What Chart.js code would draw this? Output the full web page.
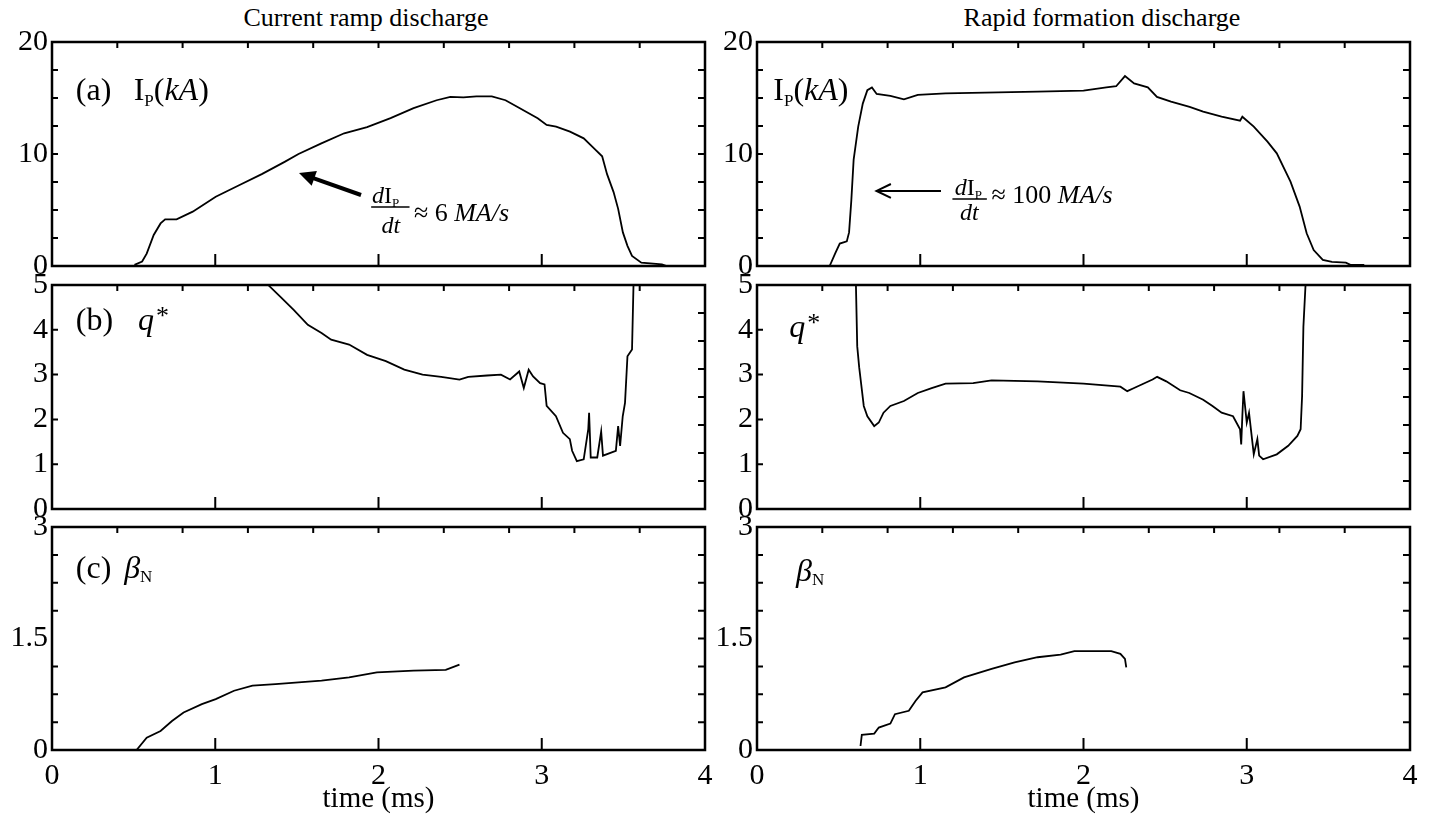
<!DOCTYPE html>
<html>
<head>
<meta charset="utf-8">
<script src="https://cdn.jsdelivr.net/npm/chart.js@4.4.1/dist/chart.umd.min.js"></script>
<style>
  body { margin: 0; background: #fff; overflow: hidden; }
  canvas { position: absolute; }
  .col-title { position: absolute; font: 26px/26px "Liberation Serif", "Times New Roman", serif; color: #000; white-space: nowrap; transform: translateX(-50%); }
</style>
</head>
<body>
<div class="col-title" style="left:366px; top:5px">Current ramp discharge</div>
<div class="col-title" style="left:1102px; top:5px">Rapid formation discharge</div>

<canvas id="ipRamp" width="730" height="268" style="left:0; top:20px"></canvas>
<canvas id="ipRapid" width="730" height="268" style="left:705px; top:20px"></canvas>
<canvas id="qRamp" width="730" height="268" style="left:0; top:263px"></canvas>
<canvas id="qRapid" width="730" height="268" style="left:705px; top:263px"></canvas>
<canvas id="betaRamp" width="730" height="309" style="left:0; top:505px"></canvas>
<canvas id="betaRapid" width="730" height="309" style="left:705px; top:505px"></canvas>

<script>
// time axis (ms) and tick labels
const timeTicks = [0, 1, 2, 3, 4];
const ipTicks = [0, 10, 20];
const qTicks = [0, 1, 2, 3, 4, 5];
const betaTicks = [0, 1.5, 3];

// (a) plasma current, kA
const rampTime = [0.00, 0.33, 0.40, 0.505, 0.552, 0.58, 0.623, 0.665, 0.693, 0.763, 0.862, 1.003, 1.149, 1.285, 1.425, 1.51, 1.65, 1.79, 1.93, 2.074, 2.215, 2.356, 2.44, 2.52, 2.60, 2.694, 2.778, 2.863, 2.975, 3.03, 3.088, 3.173, 3.257, 3.314, 3.37, 3.40, 3.44, 3.468, 3.497, 3.525, 3.553, 3.61, 3.736, 3.765, 3.85];
const rampIp = [0, 0, null, 0.1, 0.4, 1.1, 2.77, 3.8, 4.17, 4.17, 4.85, 6.19, 7.23, 8.2, 9.3, 10.0, 10.95, 11.85, 12.4, 13.2, 14.1, 14.8, 15.1, 15.05, 15.15, 15.15, 14.8, 14.1, 13.2, 12.6, 12.45, 12.0, 11.4, 10.6, 9.8, 8.2, 6.6, 5.1, 3.0, 1.8, 0.9, 0.3, 0.15, 0, 0];

const rapidTime = [0.445, 0.479, 0.507, 0.55, 0.564, 0.578, 0.592, 0.62, 0.648, 0.676, 0.704, 0.733, 0.817, 0.9, 0.985, 1.155, 1.718, 2.0, 2.14, 2.2, 2.254, 2.31, 2.394, 2.45, 2.536, 2.65, 2.733, 2.846, 2.959, 2.973, 3.043, 3.127, 3.184, 3.268, 3.324, 3.367, 3.41, 3.466, 3.522, 3.607, 3.635, 3.72];
const rapidIp = [0, 1.13, 2.0, 2.2, 3.0, 5.9, 9.5, 12.44, 14.5, 15.7, 15.95, 15.36, 15.2, 14.88, 15.27, 15.42, 15.57, 15.65, 15.95, 16.05, 16.96, 16.3, 15.95, 15.1, 14.67, 14.2, 13.78, 13.33, 12.97, 13.33, 12.44, 11.1, 10.06, 7.53, 5.3, 2.92, 1.43, 0.54, 0.36, 0.3, 0.1, 0.1];

// (b) q*
const rampQTime = [1.327, 1.398, 1.482, 1.567, 1.651, 1.71, 1.82, 1.93, 2.045, 2.158, 2.27, 2.384, 2.496, 2.55, 2.665, 2.75, 2.806, 2.862, 2.89, 2.92, 2.947, 2.99, 3.017, 3.03, 3.087, 3.13, 3.172, 3.186, 3.215, 3.257, 3.285, 3.29, 3.3, 3.34, 3.364, 3.375, 3.454, 3.468, 3.48, 3.496, 3.51, 3.525, 3.553, 3.562];
const rampQ = [4.99, 4.74, 4.44, 4.11, 3.93, 3.78, 3.67, 3.44, 3.30, 3.11, 3.0, 2.95, 2.89, 2.95, 2.98, 3.0, 2.89, 3.07, 2.7, 3.11, 2.96, 2.81, 2.78, 2.30, 2.07, 1.70, 1.56, 1.30, 1.07, 1.11, 1.78, 2.15, 1.15, 1.15, 1.73, 1.19, 1.30, 1.85, 1.41, 2.07, 2.37, 3.41, 3.56, 5.0];

const rapidQTime = [0.606, 0.614, 0.626, 0.642, 0.654, 0.676, 0.718, 0.746, 0.775, 0.817, 0.9, 0.985, 1.07, 1.155, 1.324, 1.437, 1.719, 2.0, 2.226, 2.268, 2.31, 2.423, 2.451, 2.507, 2.592, 2.648, 2.733, 2.79, 2.846, 2.916, 2.959, 2.966, 2.973, 2.98, 3.0, 3.014, 3.028, 3.043, 3.065, 3.076, 3.1, 3.184, 3.254, 3.31, 3.33, 3.339, 3.347, 3.36];
const rapidQ = [5, 3.63, 3.16, 2.67, 2.30, 2.07, 1.85, 1.93, 2.15, 2.30, 2.41, 2.59, 2.70, 2.80, 2.81, 2.87, 2.85, 2.80, 2.73, 2.63, 2.70, 2.89, 2.95, 2.85, 2.65, 2.59, 2.44, 2.30, 2.15, 2.07, 1.78, 1.44, 2.07, 2.63, 1.93, 2.15, 1.70, 1.22, 1.56, 1.19, 1.11, 1.22, 1.41, 1.63, 1.78, 2.52, 4.07, 5];

// (c) normalized beta
const rampBetaTime = [0.518, 0.58, 0.665, 0.735, 0.806, 0.918, 1.003, 1.115, 1.228, 1.369, 1.651, 1.82, 1.99, 2.215, 2.412, 2.496];
const rampBeta = [0, 0.166, 0.256, 0.39, 0.505, 0.617, 0.685, 0.797, 0.865, 0.887, 0.932, 0.977, 1.045, 1.068, 1.077, 1.149];

const rapidBetaTime = [0.634, 0.642, 0.718, 0.746, 0.817, 0.845, 0.93, 0.972, 1.014, 1.155, 1.268, 1.437, 1.578, 1.719, 1.86, 1.944, 2.17, 2.226, 2.254, 2.262];
const rapidBeta = [0.054, 0.203, 0.221, 0.302, 0.356, 0.482, 0.527, 0.662, 0.775, 0.842, 0.977, 1.09, 1.18, 1.248, 1.284, 1.329, 1.329, 1.293, 1.225, 1.113];

const SERIF = '"Liberation Serif", "Times New Roman", serif';

function fontOf(r) {
    return (r.it ? 'italic ' : '') + r.size + 'px ' + SERIF;
}

// draw a row of text pieces (for subscripts, italics)
function drawRuns(ctx, x, y, runs, align) {
    let w = 0;
    runs.forEach(r => { ctx.font = fontOf(r); w += (r.gap || 0) + ctx.measureText(r.s).width; });
    let cx = align === 'center' ? x - w / 2 : x;
    runs.forEach(r => {
        ctx.font = fontOf(r);
        cx += r.gap || 0;
        ctx.fillText(r.s, cx, y + (r.dy || 0));
        cx += ctx.measureText(r.s).width;
    });
}

// box with inward ticks on all four sides
const framePlugin = {
    id: 'frame',
    afterDatasetsDraw(chart, args, opts) {
        const { ctx, chartArea: a, scales: { x, y } } = chart;
        ctx.save();
        ctx.strokeStyle = '#000';
        ctx.lineWidth = 2.5;
        ctx.strokeRect(a.left, a.top, a.right - a.left, a.bottom - a.top);
        ctx.lineWidth = 2;
        ctx.beginPath();
        opts.top.forEach(t => {
            const px = x.getPixelForValue(t);
            ctx.moveTo(px, a.top); ctx.lineTo(px, a.top + 6);
        });
        opts.bottom.forEach(t => {
            const px = x.getPixelForValue(t);
            ctx.moveTo(px, a.bottom); ctx.lineTo(px, a.bottom - 12);
        });
        opts.left.forEach(v => {
            const py = y.getPixelForValue(v);
            ctx.moveTo(a.left, py); ctx.lineTo(a.left + 6, py);
        });
        opts.right.forEach(v => {
            const py = y.getPixelForValue(v);
            ctx.moveTo(a.right, py); ctx.lineTo(a.right - 7, py);
        });
        ctx.stroke();
        ctx.restore();
    }
};

// panel labels, fractions and arrows, placed in data units
const notesPlugin = {
    id: 'notes',
    afterDraw(chart, args, opts) {
        const { ctx, scales: { x, y } } = chart;
        ctx.save();
        ctx.fillStyle = '#000';
        ctx.strokeStyle = '#000';
        ctx.textBaseline = 'alphabetic';
        (opts.items || []).forEach(it => {
            if (it.kind === 'text') {
                drawRuns(ctx, x.getPixelForValue(it.t), y.getPixelForValue(it.v), it.runs, it.align);
            } else if (it.kind === 'line') {
                ctx.lineWidth = it.w;
                ctx.beginPath();
                ctx.moveTo(x.getPixelForValue(it.t1), y.getPixelForValue(it.v1));
                ctx.lineTo(x.getPixelForValue(it.t2), y.getPixelForValue(it.v2));
                ctx.stroke();
            } else if (it.kind === 'arrow') {
                const x1 = x.getPixelForValue(it.t1), y1 = y.getPixelForValue(it.v1);
                const x2 = x.getPixelForValue(it.t2), y2 = y.getPixelForValue(it.v2);
                const ang = Math.atan2(y2 - y1, x2 - x1);
                const h = it.head, spread = 0.45;
                ctx.lineWidth = it.w;
                ctx.beginPath();
                ctx.moveTo(x1, y1);
                ctx.lineTo(it.open ? x2 : x2 - Math.cos(ang) * h * 0.8, it.open ? y2 : y2 - Math.sin(ang) * h * 0.8);
                ctx.stroke();
                ctx.beginPath();
                ctx.moveTo(x2 - h * Math.cos(ang - spread), y2 - h * Math.sin(ang - spread));
                ctx.lineTo(x2, y2);
                ctx.lineTo(x2 - h * Math.cos(ang + spread), y2 - h * Math.sin(ang + spread));
                if (it.open) { ctx.lineWidth = 2; ctx.stroke(); } else { ctx.closePath(); ctx.fill(); }
            }
        });
        ctx.restore();
    }
};

const topMinor = [0.4, 0.8, 1.2, 1.6, 2.0, 2.4, 2.8, 3.2, 3.6];
const bottomMajor = [1, 2, 3];

function panel(id, time, values, yMax, yTicks, leftMinor, rightMinor, notes, withTime) {
    const points = time.map((t, i) => ({ x: t, y: values[i] }));
    return new Chart(document.getElementById(id), {
        type: 'scatter',
        data: {
            datasets: [{
                data: points,
                showLine: true,
                borderColor: '#000',
                borderWidth: 1.8,
                pointRadius: 0,
                tension: 0,
                spanGaps: false
            }]
        },
        options: {
            responsive: false,
            animation: false,
            layout: { padding: { left: 0, right: 25, top: 22, bottom: withTime ? 0 : 22 } },
            plugins: {
                legend: { display: false },
                tooltip: { enabled: false },
                frame: { top: topMinor, bottom: bottomMajor, left: leftMinor, right: rightMinor },
                notes: { items: notes }
            },
            scales: {
                x: {
                    type: 'linear',
                    min: 0,
                    max: 4,
                    display: withTime,
                    grid: { display: false, drawTicks: false },
                    border: { display: false },
                    afterBuildTicks: s => { s.ticks = timeTicks.map(v => ({ value: v })); },
                    afterFit: s => { s.height = withTime ? 64 : 0; },
                    ticks: {
                        color: '#000',
                        padding: 8,
                        maxRotation: 0,
                        autoSkip: false,
                        font: { family: SERIF, size: 30 },
                        callback: v => String(v)
                    },
                    title: {
                        display: true,
                        text: 'time (ms)',
                        color: '#000',
                        padding: { top: 0, bottom: 0 },
                        font: { family: SERIF, size: 29, lineHeight: 1 }
                    }
                },
                y: {
                    min: 0,
                    max: yMax,
                    grid: { display: false, drawTicks: false },
                    border: { display: false },
                    afterBuildTicks: s => { s.ticks = yTicks.map(v => ({ value: v })); },
                    afterFit: s => { s.width = 52; },
                    ticks: {
                        color: '#000',
                        padding: 4,
                        autoSkip: false,
                        font: { family: SERIF, size: 30 },
                        callback: v => String(v)
                    }
                }
            }
        },
        plugins: [framePlugin, notesPlugin]
    });
}

const big = 32, sub = 17;

panel('ipRamp', rampTime, rampIp, 20, ipTicks,
    [2.5, 5, 7.5, 10, 12.5, 15, 17.5], [2.5, 5, 7.5, 10, 12.5, 15, 17.5], [
        { kind: 'text', t: 0.146, v: 14.8, runs: [{ s: '(a)', size: big }] },
        { kind: 'text', t: 0.5, v: 14.8, runs: [{ s: 'I', size: big }, { s: 'P', size: sub, dy: 6 }, { s: '(', size: big }, { s: 'kA', size: big, it: true }, { s: ')', size: big }] },
        { kind: 'arrow', t1: 1.893, v1: 6.34, t2: 1.513, v2: 8.3, w: 4, head: 18, open: false },
        { kind: 'text', t: 1.96, v: 5.6, runs: [{ s: 'd', size: 24, it: true }, { s: 'I', size: 24 }, { s: 'P', size: 13, dy: 4 }] },
        { kind: 'line', t1: 1.955, v1: 5.27, t2: 2.19, v2: 5.27, w: 1.5 },
        { kind: 'text', t: 2.075, v: 2.95, align: 'center', runs: [{ s: 'dt', size: 24, it: true }] },
        { kind: 'text', t: 2.217, v: 4.0, runs: [{ s: '\u2248 6 ', size: 26 }, { s: 'MA/s', size: 26, it: true }] }
    ], false);

panel('ipRapid', rapidTime, rapidIp, 20, ipTicks,
    [2.5, 5, 7.5, 10, 12.5, 15, 17.5], [2.5, 5, 7.5, 10, 12.5, 15, 17.5], [
        { kind: 'text', t: 0.1, v: 14.8, runs: [{ s: 'I', size: big }, { s: 'P', size: sub, dy: 6 }, { s: '(', size: big }, { s: 'kA', size: big, it: true }, { s: ')', size: big }] },
        { kind: 'arrow', t1: 1.127, v1: 6.7, t2: 0.732, v2: 6.7, w: 2, head: 16, open: true },
        { kind: 'text', t: 1.211, v: 6.34, runs: [{ s: 'd', size: 24, it: true }, { s: 'I', size: 24 }, { s: 'P', size: 13, dy: 4 }] },
        { kind: 'line', t1: 1.197, v1: 5.98, t2: 1.408, v2: 5.98, w: 1.5 },
        { kind: 'text', t: 1.3, v: 4.1, align: 'center', runs: [{ s: 'dt', size: 24, it: true }] },
        { kind: 'text', t: 1.437, v: 5.62, runs: [{ s: '\u2248 100 ', size: 26 }, { s: 'MA/s', size: 26, it: true }] }
    ], false);

panel('qRamp', rampQTime, rampQ, 5, qTicks,
    [1, 2, 3, 4], [0.625, 1.25, 1.875, 2.5, 3.125, 3.75, 4.375], [
        { kind: 'text', t: 0.146, v: 4.0, runs: [{ s: '(b)', size: big }] },
        { kind: 'text', t: 0.527, v: 4.0, runs: [{ s: 'q', size: big, it: true }, { s: '*', size: 26, dy: -6, gap: 2 }] }
    ], false);

panel('qRapid', rapidQTime, rapidQ, 5, qTicks,
    [1, 2, 3, 4], [0.625, 1.25, 1.875, 2.5, 3.125, 3.75, 4.375], [
        { kind: 'text', t: 0.197, v: 3.84, runs: [{ s: 'q', size: big, it: true }, { s: '*', size: 26, dy: -6, gap: 2 }] }
    ], false);

panel('betaRamp', rampBetaTime, rampBeta, 3, betaTicks,
    [0.375, 0.75, 1.125, 1.875, 2.25, 2.625], [0.375, 0.75, 1.125, 1.5, 1.875, 2.25, 2.625], [
        { kind: 'text', t: 0.146, v: 2.31, runs: [{ s: '(c)', size: big }] },
        { kind: 'text', t: 0.442, v: 2.31, runs: [{ s: '\u03B2', size: big, it: true }, { s: 'N', size: sub, dy: 4 }] }
    ], true);

panel('betaRapid', rapidBetaTime, rapidBeta, 3, betaTicks,
    [0.375, 0.75, 1.125, 1.875, 2.25, 2.625], [0.375, 0.75, 1.125, 1.5, 1.875, 2.25, 2.625], [
        { kind: 'text', t: 0.239, v: 2.28, runs: [{ s: '\u03B2', size: big, it: true }, { s: 'N', size: sub, dy: 4 }] }
    ], true);
</script>
</body>
</html>
